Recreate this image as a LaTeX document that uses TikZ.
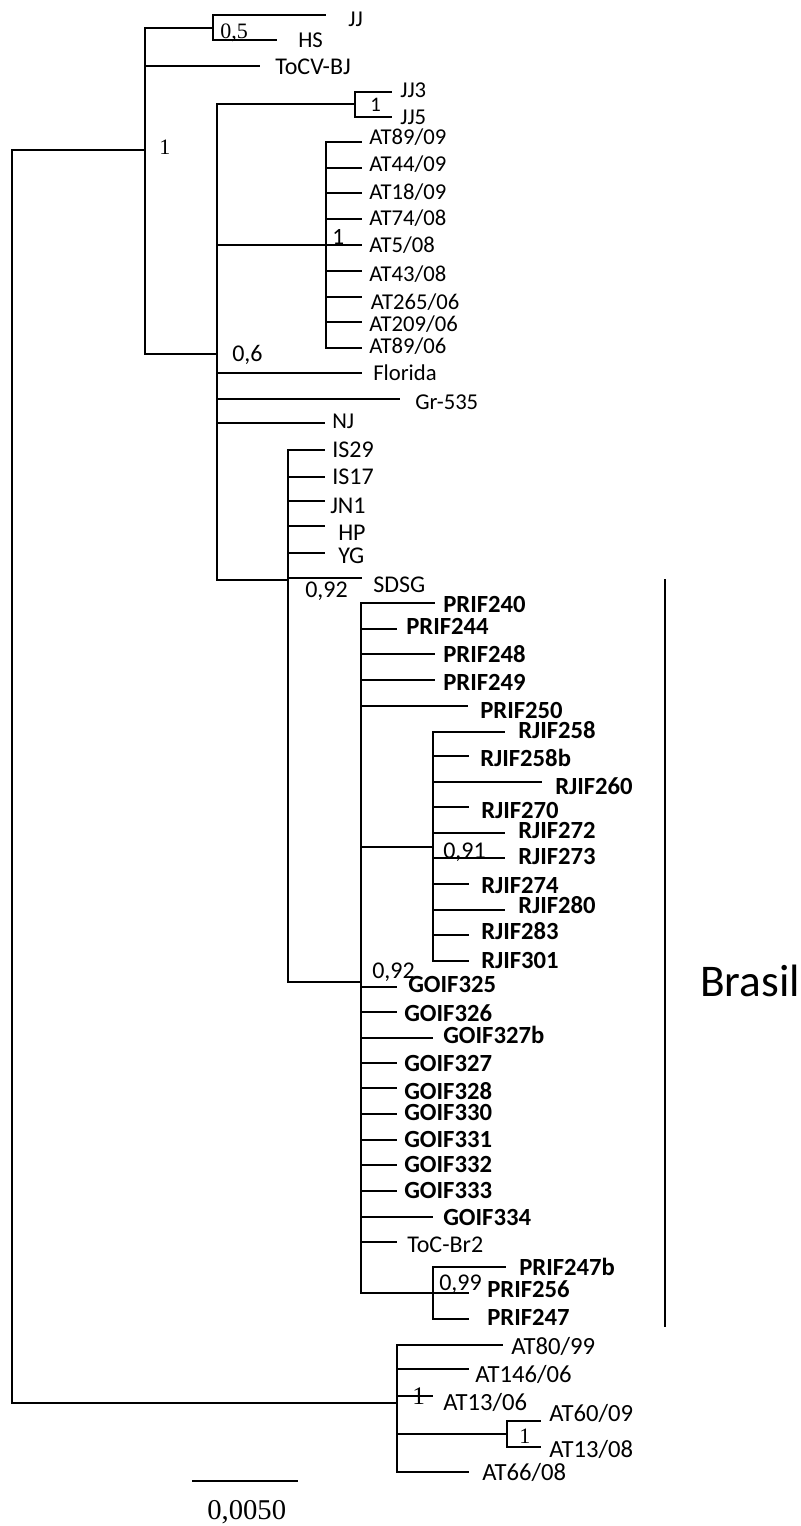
\documentclass[tikz,border=0pt]{standalone}
\usepackage{fontspec}
\setmainfont{Carlito}
\newfontfamily\numserif{Liberation Serif}
\newcommand\leafnode[8]{%
  \coordinate (t#1) at (#3,#4);
  \node[#7] (#1) at (#5,#6) {#8};
  \draw[br] (#2) |- (t#1);}
\tikzset{
  br/.style={line width=1.5pt, line join=miter},
  lab/.style={inner sep=0pt, anchor=base west, font=\fontsize{17}{17}\selectfont},
  labM/.style={lab, font=\fontsize{18}{18}\selectfont},
  labL/.style={lab, font=\fontsize{18.5}{18.5}\selectfont},
  labB/.style={lab, font=\fontsize{18.5}{18.5}\selectfont\bfseries},
  supS/.style={lab, font=\fontsize{18}{18}\selectfont},
  supT/.style={lab, font=\fontsize{16.5}{16.5}\numserif},
}
\begin{document}
\begin{tikzpicture}[x=0.75pt,y=-0.75pt]
\useasboundingbox (0,0) rectangle (800,1526);
% internal nodes
\coordinate (R) at (12,776);
\coordinate (A) at (145,150);
\coordinate (N1) at (213,28);
\coordinate (B) at (217,354);
\coordinate (N2) at (355,104);
\coordinate (N3) at (326,245);
\coordinate (C) at (288,580);
\coordinate (D) at (361,982);
\coordinate (E) at (433,847);
\coordinate (F) at (433,1293);
\coordinate (G) at (397,1403);
\coordinate (H) at (507,1434);
\draw[br] (R) |- (A);
\draw[br] (R) |- (G);
\draw[br] (A) |- (N1);
\draw[br] (A) |- (B);
\draw[br] (B) |- (N2);
\draw[br] (B) |- (N3);
\draw[br] (B) |- (C);
\draw[br] (C) |- (D);
\draw[br] (D) |- (E);
\draw[br] (D) |- (F);
\draw[br] (G) |- (H);
% top clade
\leafnode{jj}{N1}{326}{15}{348}{26.7}{lab}{JJ}
\leafnode{hs}{N1}{277}{40}{298}{47.7}{lab}{HS}
\leafnode{tocv}{A}{260}{66}{275}{75}{labM}{ToCV-BJ}
\leafnode{jjt}{N2}{392}{92}{400}{97.3}{lab}{JJ3}
\leafnode{jjf}{N2}{392}{117}{400}{125}{lab}{JJ5}
\leafnode{a1}{N3}{362}{142}{369}{145}{lab}{AT89/09}
\leafnode{a2}{N3}{362}{168}{369}{171.7}{lab}{AT44/09}
\leafnode{a3}{N3}{362}{193}{369}{200}{lab}{AT18/09}
\leafnode{a4}{N3}{362}{219}{369}{226}{lab}{AT74/08}
\leafnode{a5}{N3}{362}{245}{369}{253}{lab}{AT5/08}
\leafnode{a6}{N3}{362}{271}{369}{281.7}{lab}{AT43/08}
\leafnode{a7}{N3}{362}{297}{370.5}{310}{lab}{AT265/06}
\leafnode{a8}{N3}{362}{322}{369}{331.7}{lab}{AT209/06}
\leafnode{a9}{N3}{362}{348}{369}{353.3}{lab}{AT89/06}
\leafnode{fl}{B}{362}{373}{373}{380}{lab}{Florida}
\leafnode{gr}{B}{400}{399}{415}{409}{lab}{Gr-535}
\leafnode{nj}{B}{325}{423}{332}{428}{lab}{NJ}
\leafnode{is29}{C}{325}{450}{332}{457}{labM}{IS29}
\leafnode{is17}{C}{325}{477}{332}{484}{labM}{IS17}
\leafnode{jn1}{C}{325}{501}{330}{513}{labM}{JN1}
\leafnode{hp}{C}{325}{526}{338}{540}{labM}{HP}
\leafnode{yg}{C}{325}{553}{338}{563}{labM}{YG}
\leafnode{sdsg}{C}{362}{578}{373}{592}{labM}{SDSG}
% Brasil clade
\leafnode{p240}{D}{435}{603}{443}{612}{labB}{PRIF240}
\leafnode{p244}{D}{397}{629}{406}{634}{labB}{PRIF244}
\leafnode{p248}{D}{435}{654}{443}{662}{labB}{PRIF248}
\leafnode{p249}{D}{435}{680}{443}{690}{labB}{PRIF249}
\leafnode{p250}{D}{468}{706}{480}{718}{labB}{PRIF250}
\leafnode{r258}{E}{505}{732}{518}{738}{labB}{RJIF258}
\leafnode{r258b}{E}{469}{756}{480}{766}{labB}{RJIF258b}
\leafnode{r260}{E}{542}{782}{555}{794}{labB}{RJIF260}
\leafnode{r270}{E}{469}{807}{481}{818}{labB}{RJIF270}
\leafnode{r272}{E}{505}{833}{518}{838}{labB}{RJIF272}
\leafnode{r273}{E}{505}{858}{518}{864}{labB}{RJIF273}
\leafnode{r274}{E}{469}{884}{481}{893}{labB}{RJIF274}
\leafnode{r280}{E}{505}{910}{518}{913}{labB}{RJIF280}
\leafnode{r283}{E}{469}{935}{481}{939}{labB}{RJIF283}
\leafnode{r301}{E}{469}{961}{481}{968}{labB}{RJIF301}
\leafnode{g325}{D}{397}{987}{408}{992}{labB}{GOIF325}
\leafnode{g326}{D}{397}{1012}{404}{1021}{labB}{GOIF326}
\leafnode{g327b}{D}{433}{1038}{443}{1043}{labB}{GOIF327b}
\leafnode{g327}{D}{397}{1063}{404}{1071}{labB}{GOIF327}
\leafnode{g328}{D}{397}{1088}{404}{1099}{labB}{GOIF328}
\leafnode{g330}{D}{397}{1114}{404}{1120}{labB}{GOIF330}
\leafnode{g331}{D}{397}{1140}{404}{1147}{labB}{GOIF331}
\leafnode{g332}{D}{397}{1165}{404}{1172}{labB}{GOIF332}
\leafnode{g333}{D}{397}{1191}{404}{1198}{labB}{GOIF333}
\leafnode{g334}{D}{433}{1217}{443}{1225}{labB}{GOIF334}
\leafnode{tbr}{D}{397}{1242}{407}{1252}{labM}{ToC-Br2}
\leafnode{p247b}{F}{506}{1267}{519}{1275}{labB}{PRIF247b}
\leafnode{p256}{F}{469}{1293}{487}{1297}{labB}{PRIF256}
\leafnode{p247}{F}{469}{1319}{487}{1325}{labB}{PRIF247}
% outgroup
\leafnode{o1}{G}{503}{1345}{511}{1354}{labL}{AT80/99}
\leafnode{o2}{G}{469}{1369}{475}{1382}{labL}{AT146/06}
\leafnode{o3}{G}{433}{1396}{443}{1410}{labL}{AT13/06}
\leafnode{o4}{H}{541}{1421}{549}{1421}{labL}{AT60/09}
\leafnode{o5}{H}{541}{1447}{549}{1457}{labL}{AT13/08}
\leafnode{o6}{G}{469}{1472}{482}{1480}{labL}{AT66/08}
% support values
\node[supT] (sA) at (159,155) {1};
\node[supT] (sN1) at (220,39) {0,5};
\node[lab, font=\fontsize{15.5}{15.5}\selectfont] (sN2) at (370,111.7) {1};
\node[lab, font=\fontsize{17.5}{17.5}\selectfont] (sN3) at (332,245) {1};
\node[supS] (sB) at (232,361) {0,6};
\node[supS] (sC) at (305,597) {0,92};
\node[supS] (sE) at (443,858) {0,91};
\node[supS] (sD) at (372,978) {0,92};
\node[supS] (sF) at (439,1290) {0,99};
\node[lab, font=\fontsize{19}{19}\numserif] (sG) at (412,1404) {1};
\node[supT] (sH) at (519,1443) {1};
% Brasil bar
\coordinate (bt) at (665,579);
\coordinate (bb) at (665,1327);
\draw[br] (bt) -- (bb);
\node[lab, font=\fontsize{34}{34}\selectfont] (brasil) at (700,996) {Brasil};
% scale bar
\coordinate (s1) at (192,1481);
\coordinate (s2) at (298,1481);
\draw[br] (s1) -- (s2);
\node[lab, font=\fontsize{21.5}{21.5}\numserif] (scl) at (207,1519) {0,0050};
\end{tikzpicture}
\end{document}
